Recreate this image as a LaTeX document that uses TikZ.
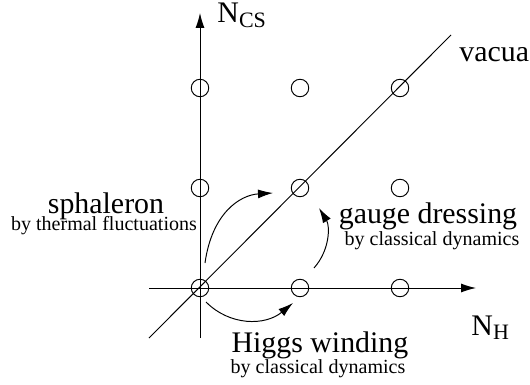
\documentclass[tikz,border=0pt]{standalone}
\usepackage{fontspec}
\setmainfont{Liberation Serif}
\usetikzlibrary{arrows.meta}

\begin{document}
\begin{tikzpicture}[
x=2cm, y=2cm,
line width=0.55pt,
vac/.style={circle, draw, minimum size=0.35cm, inner sep=0pt},
big/.style={font=\fontsize{17}{19}\selectfont, anchor=base, inner sep=0pt},
small/.style={font=\fontsize{11.4}{13}\selectfont, anchor=base, inner sep=0pt},
tip/.style={-{Latex[length=3mm, width=1.8mm]}}
]
\useasboundingbox (-2,-0.96) rectangle (3.3,2.88);

% lattice of vacua
\foreach \i in {0,1,2}
  \foreach \j in {0,1,2}
    \node[vac] (c\i\j) at (\i,\j) {};

% axes and vacuum line
\coordinate (xs) at (-0.51,0);
\coordinate (xe) at (2.76,0);
\coordinate (ys) at (0,-0.5);
\coordinate (ye) at (0,2.75);
\coordinate (ds) at (-0.51,-0.5);
\coordinate (de) at (2.51,2.53);
\draw[tip] (xs) -- (xe);
\draw[tip] (ys) -- (ye);
\draw (ds) -- (de);

\node[big, anchor=base west] (ncs) at (0.17,2.65) {N\raisebox{-0.35ex}{\fontsize{12.5}{14}\selectfont CS}};
\node[big, anchor=base west] (nh) at (2.71,-0.47) {N\raisebox{-0.35ex}{\fontsize{12.5}{14}\selectfont H}};
\node[big, anchor=base west] (vacua) at (2.59,2.26) {vacua};

% transitions
\node[big] (sph) at (-0.94,0.75) {sphaleron};
\node[small] (sphb) at (-0.96,0.58) {by thermal fluctuations};
\node[big] (gau) at (2.28,0.65) {gauge dressing};
\node[small] (gaub) at (2.32,0.43) {by classical dynamics};
\node[big] (hig) at (1.20,-0.64) {Higgs winding};
\node[small] (higb) at (1.18,-0.85) {by classical dynamics};

\draw[tip] ([shift={(0.05,0.25)}]c00.center) .. controls ([shift={(0.12,0.75)}]c00.center) and ([shift={(0.4,0.93)}]c00.center) .. ([shift={(-0.27,-0.05)}]c11.center);
\draw[tip] ([shift={(0.14,0.2)}]c10.center) .. controls ([shift={(0.3,0.38)}]c10.center) and ([shift={(0.3,0.62)}]c10.center) .. ([shift={(0.19,-0.2)}]c11.center);
\draw[tip] ([shift={(0.06,-0.14)}]c00.center) .. controls ([shift={(0.3,-0.38)}]c00.center) and ([shift={(0.65,-0.38)}]c00.center) .. ([shift={(-0.07,-0.15)}]c10.center);

\end{tikzpicture}
\end{document}
